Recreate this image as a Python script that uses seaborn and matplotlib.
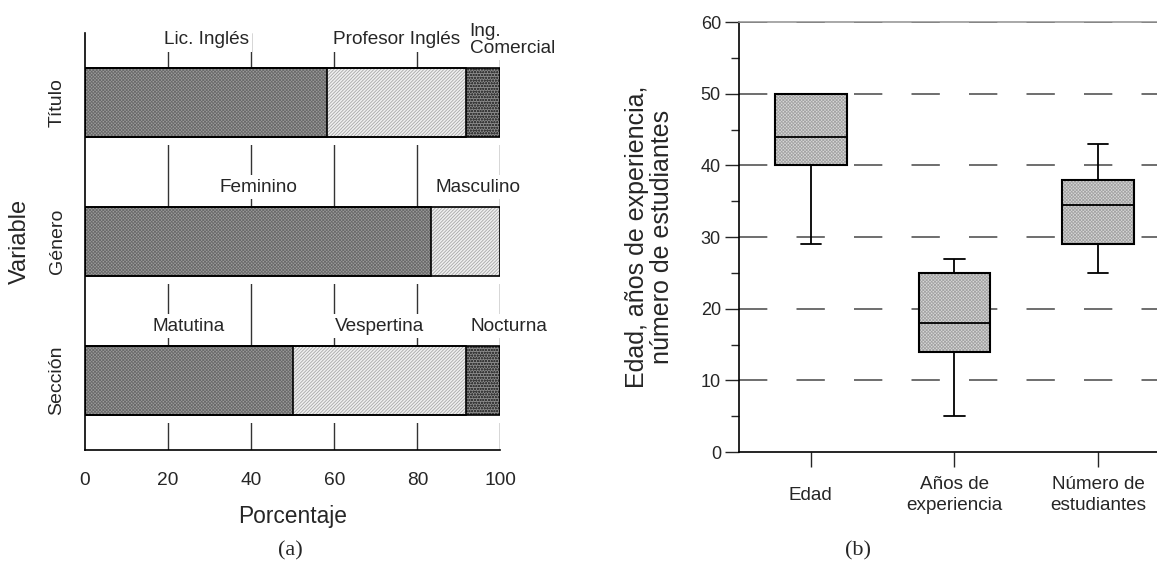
"""
Figura doble: (a) composición porcentual de la muestra, (b) diagramas de caja.
"""
import numpy as np
import pandas as pd
import matplotlib
matplotlib.use('Agg')
import matplotlib.pyplot as plt
from matplotlib.patches import Rectangle, PathPatch
import seaborn as sns

# ---- datos panel (a) ----
variables = ['Título', 'Género', 'Sección']
categorias = [
    ['Lic. Inglés', 'Profesor Inglés', 'Ing.\nComercial'],
    ['Feminino', 'Masculino'],
    ['Matutina', 'Vespertina', 'Nocturna'],
]
porcentajes = [
    [58.3, 33.3, 8.4],
    [83.3, 16.7],
    [50.0, 41.7, 8.3],
]

# ---- datos panel (b): mín, Q1, mediana, Q3, máx ----
grupos = ['Edad', 'Años de\nexperiencia', 'Número de\nestudiantes']
edad = [29, 40, 44, 50, 50]
experiencia = [5, 14, 18, 25, 27]
estudiantes = [25, 29, 34.5, 38, 43]

sns.set_style('white')
plt.rcParams['font.family'] = ['Liberation Sans', 'DejaVu Sans']
plt.rcParams['hatch.linewidth'] = 0.6

fig = plt.figure(figsize=(11.57, 5.69), dpi=100)
ax1 = fig.add_axes([0.0735, 0.209, 0.359, 0.733])
ax2 = fig.add_axes([0.6387, 0.2056, 0.3613, 0.7557])

# ---------------- (a) barras apiladas ----------------
filas = []
for var, cats, vals in zip(variables, categorias, porcentajes):
    fin = np.cumsum(vals)
    for nivel, (cat, v, f) in enumerate(zip(cats, vals, fin)):
        filas.append(dict(variable=var, categoria=cat, nivel=nivel,
                          valor=v, inicio=f - v, fin=f))
df_a = pd.DataFrame(filas)

estilos = {
    0: dict(fc='#9c9c9c', hatch='xxxxxxxxxx', hc='#6a6a6a'),
    1: dict(fc='#f0f0f0', hatch='//////////', hc='#a8a8a8'),
    2: dict(fc='#8a8a8a', hatch='oooooo', hc='#3a3a3a'),
}

for nivel in [2, 1, 0]:
    sub = df_a[df_a['nivel'] == nivel]
    antes = len(ax1.patches)
    sns.barplot(data=sub, x='fin', y='variable', order=variables, orient='h',
                width=0.5, errorbar=None, saturation=1, color='gray', ax=ax1)
    for p in ax1.patches[antes:]:
        p.set_facecolor(estilos[nivel]['fc'])
        p.set_edgecolor(estilos[nivel]['hc'])
        p.set_hatch(estilos[nivel]['hatch'])
        p.set_linewidth(0)
        p.set_zorder(2)

for p in list(ax1.patches):
    # contorno negro y franja blanca bajo cada barra
    ax1.add_patch(Rectangle(p.get_xy(), p.get_width(), p.get_height(),
                            fill=False, edgecolor='black', linewidth=1.2, zorder=3))
    ax1.add_patch(Rectangle((p.get_x(), p.get_y() + p.get_height()), p.get_width(),
                            0.055, facecolor='white', edgecolor='none', zorder=1.5))

ypos = {v: i for i, v in enumerate(variables)}
for _, r in df_a.iterrows():
    y = ypos[r['variable']] - 0.25 - (0.2 if r['variable'] == 'Título' else 0.14)
    ultimo = r['nivel'] == df_a[df_a['variable'] == r['variable']]['nivel'].max()
    if ultimo:
        x, ha = r['inicio'] + 1, 'left'
    else:
        x, ha = (r['inicio'] + r['fin']) / 2, 'center'
    ax1.text(x, y, r['categoria'], ha=ha, va='center', fontsize=13.7,
             linespacing=1.0, zorder=4, clip_on=False,
             bbox=dict(facecolor='white', edgecolor='none', pad=2.5))

ax1.set_xlim(0, 100)
ax1.set_ylim(2.5, -0.5)
ax1.set_xticks([0, 20, 40, 60, 80, 100])
for xv in [20, 40, 60, 80, 100]:
    ax1.axvline(xv, color='#333333', linewidth=1, zorder=1)
ax1.set_xlabel('Porcentaje', fontsize=16.4, labelpad=11)
ax1.set_ylabel('Variable', fontsize=17, va='center')
ax1.yaxis.set_label_coords(-0.157, 0.5)
ax1.set_yticks(range(len(variables)))
ax1.set_yticklabels(variables, rotation=90, va='center', fontsize=14)
ax1.tick_params(axis='x', labelsize=13.8, direction='out', length=10, width=1, pad=6)
ax1.tick_params(axis='y', direction='out', length=10, width=1, pad=4)
for s in ['top', 'right']:
    ax1.spines[s].set_visible(False)
for s in ['left', 'bottom']:
    ax1.spines[s].set_color('black')
    ax1.spines[s].set_linewidth(1.2)

# ---------------- (b) diagramas de caja ----------------
df_b = pd.DataFrame({
    'grupo': np.repeat(grupos, 5),
    'valor': edad + experiencia + estudiantes,
})
kw = dict(data=df_b, x='grupo', y='valor', order=grupos, width=0.5,
          whis=(0, 100), color='#d8d8d8', linecolor='black', linewidth=1.3,
          fliersize=0, saturation=1, ax=ax2)
try:
    sns.boxplot(capwidths=0.14, **kw)
except TypeError:
    sns.boxplot(**kw)

for p in list(ax2.patches):
    p.set_edgecolor('#a4a4a4')
    p.set_hatch('xxxxxxxxxx')
    p.set_linewidth(0)
    p.set_zorder(2)
    ax2.add_patch(PathPatch(p.get_path(), transform=p.get_transform(),
                            fill=False, edgecolor='black', linewidth=1.5, zorder=3))
for ln in ax2.lines:
    ln.set_zorder(4)

ax2.set_ylim(0, 60)
ax2.set_xlim(-0.5, 2.41)
ax2.set_yticks(range(0, 61, 10))
ax2.set_yticks(range(5, 60, 10), minor=True)
for yv in range(10, 61, 10):
    ax2.axhline(yv, color='#000000' if yv == 60 else '#555555', linewidth=1.2,
                dashes=(17, 17.5), zorder=1.2)
ax2.set_xlabel('')
ax2.set_ylabel('Edad, años de experiencia,\nnúmero de estudiantes',
               fontsize=18, linespacing=1.05, va='center')
ax2.yaxis.set_label_coords(-0.215, 0.5)
ax2.tick_params(axis='y', which='major', labelsize=13, direction='out',
                length=10, width=1, pad=3, left=True)
ax2.tick_params(axis='y', which='minor', direction='out', length=5.5, width=1, left=True)
ax2.tick_params(axis='x', labelsize=13.6, direction='out', length=11, width=1,
                pad=20, bottom=True)
for lab in ax2.get_xticklabels():
    lab.set_va('center')
    lab.set_linespacing(1.25)
ax2.spines['right'].set_visible(False)
ax2.spines['top'].set_color('#999999')
ax2.spines['top'].set_linewidth(1.2)
for s in ['left', 'bottom']:
    ax2.spines[s].set_color('black')
    ax2.spines[s].set_linewidth(1.2)

fig.text(0.2506, 0.032, '(a)', ha='center', va='center', fontsize=16,
         family='Liberation Serif')
fig.text(0.7416, 0.032, '(b)', ha='center', va='center', fontsize=16,
         family='Liberation Serif')

fig.savefig('out.png', dpi=100)
